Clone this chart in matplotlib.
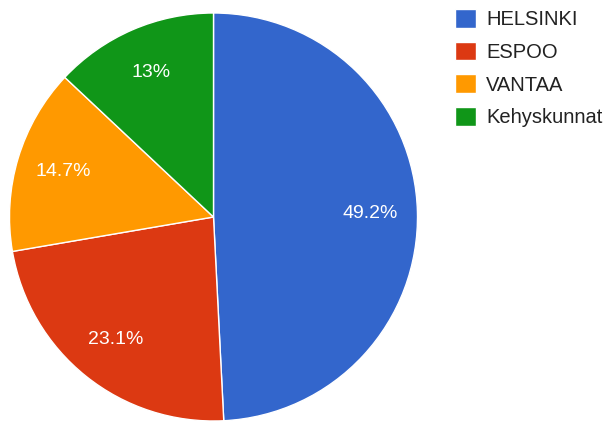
import matplotlib.pyplot as plt

plt.rcParams['font.family'] = ['Liberation Sans', 'DejaVu Sans']

regions = ['HELSINKI', 'ESPOO', 'VANTAA', 'Kehyskunnat']
shares = [49.2, 23.1, 14.7, 13.0]
colors = ['#3366cc', '#dc3912', '#ff9900', '#109618']
pct_labels = ['49.2%', '23.1%', '14.7%', '13%']

fig = plt.figure(figsize=(6.12, 4.23), dpi=100)
ax = fig.add_axes([9.5 / 612, 2 / 423, 408 / 612, 408 / 423])

wedges, texts = ax.pie(shares, colors=colors, startangle=90, counterclock=False,
                       labels=pct_labels, labeldistance=0.77,
                       wedgeprops=dict(edgecolor='white', linewidth=1),
                       textprops=dict(color='white', fontsize=14))
for t in texts:
    t.set_ha('center')
    t.set_va('center')
ax.set_xlim(-1, 1)
ax.set_ylim(-1, 1)
ax.set_aspect('equal')

fig.legend(wedges, regions, loc='upper left', bbox_to_anchor=(455 / 612, 1 - 9 / 423),
           frameon=False, fontsize=14.5, handlelength=1.05, handleheight=1.05,
           handletextpad=0.5, labelspacing=0.62, borderaxespad=0, borderpad=0,
           labelcolor='#222222')

fig.savefig('out.png', dpi=100)
